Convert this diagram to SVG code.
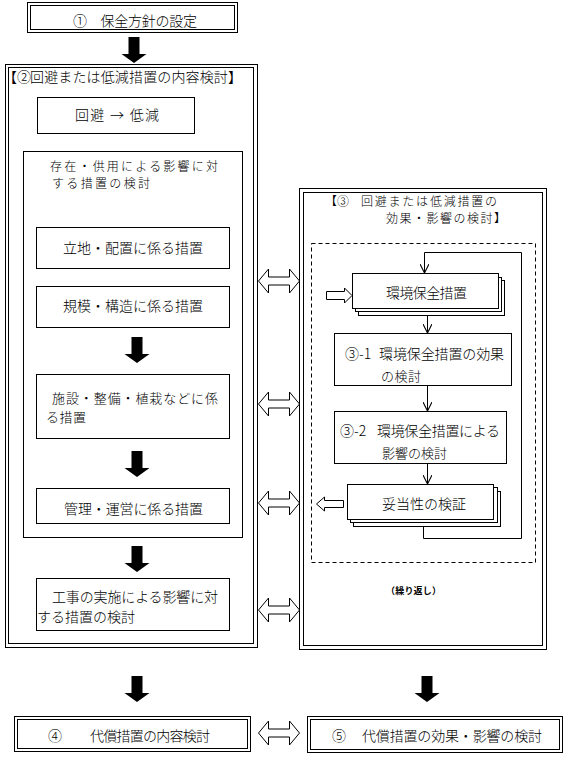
<svg xmlns="http://www.w3.org/2000/svg" width="568" height="760" viewBox="0 0 568 760">
<defs>
<style>
rect{fill:#fff;stroke:#000;stroke-width:1}
.dash{fill:none;stroke-dasharray:4 3}
text{font-family:"Noto Sans CJK JP","Noto Sans CJK SC",sans-serif;font-size:14px;font-weight:300;fill:#000}
.sm{font-size:13px}
.two{font-size:12px}
.tiny{font-size:9px;font-weight:bold}
.blk{fill:#000;stroke:none}
.hol{fill:#fff;stroke:#000;stroke-width:1}
.ln{fill:none;stroke:#000;stroke-width:1}
</style>
<marker id="v" viewBox="0 0 10 10" refX="10" refY="5" markerUnits="userSpaceOnUse" markerWidth="9" markerHeight="9" orient="auto">
<path d="M0,0 L10,5 L0,10" fill="none" stroke="#000" stroke-width="1.2"/>
</marker>
</defs>
<rect x="0" y="0" width="568" height="760" style="fill:#fff;stroke:none"/>

<g id="n1">
<rect x="27.5" y="2.5" width="210" height="30"/>
<rect x="30.5" y="5.5" width="204" height="24"/>
<text x="73" y="26" textLength="124">①　保全方針の設定</text>
</g>

<g id="n2">
<rect x="5.5" y="64.5" width="252" height="583"/>
<rect x="8.5" y="67.5" width="245" height="576"/>
<text y="82"><tspan x="3">【②</tspan><tspan x="30" textLength="212">回避または低減措置の内容検討】</tspan></text>
</g>

<g id="n2a">
<rect x="37.5" y="97.5" width="157" height="36"/>
<text x="75" y="120" textLength="84">回避 → 低減</text>
</g>

<g id="n2b">
<rect x="23.5" y="151.5" width="219" height="386"/>
<text class="two" x="50" y="171" textLength="168">存在・供用による影響に対</text>
<text class="two" x="52" y="188" textLength="98">する措置の検討</text>
</g>

<g id="n2b1">
<rect x="36.5" y="227.5" width="193" height="41"/>
<text x="63" y="253" textLength="140">立地・配置に係る措置</text>
</g>

<g id="n2b2">
<rect x="36.5" y="286.5" width="193" height="41"/>
<text x="63" y="311" textLength="140">規模・構造に係る措置</text>
</g>

<g id="n2b3">
<rect x="36.5" y="374.5" width="193" height="64"/>
<text class="sm" x="52" y="403" textLength="166">施設・整備・植栽などに係</text>
<text class="sm" x="46" y="422" textLength="40">る措置</text>
</g>

<g id="n2b4">
<rect x="36.5" y="488.5" width="193" height="35"/>
<text x="64" y="514" textLength="139">管理・運営に係る措置</text>
</g>

<g id="n2c">
<rect x="36.5" y="578.5" width="193" height="52"/>
<text x="52" y="602" textLength="166">工事の実施による影響に対</text>
<text x="37" y="622" textLength="98">する措置の検討</text>
</g>

<g id="n3">
<rect x="299.5" y="188.5" width="247" height="461"/>
<rect x="303.5" y="192.5" width="239" height="453"/>
<text class="two" y="206"><tspan x="325">【③</tspan><tspan x="361" textLength="136">回避または低減措置の</tspan></text>
<text class="two" x="386" y="223" textLength="120">効果・影響の検討】</text>
<rect class="dash" x="311.5" y="243.5" width="224" height="319"/>
<text class="tiny" x="386" y="594" textLength="55">（繰り返し）</text>
</g>

<g id="n3a">
<rect x="358.5" y="280.5" width="146" height="35"/>
<rect x="355.5" y="277.5" width="146" height="34"/>
<rect x="352.5" y="273.5" width="146" height="35"/>
<text x="386" y="298" textLength="81">環境保全措置</text>
</g>

<g id="n3b">
<rect x="334.5" y="333.5" width="177" height="52"/>
<text y="359"><tspan x="345">③-1</tspan><tspan x="379" textLength="125">環境保全措置の効果</tspan></text>
<text class="sm" x="381" y="381" textLength="40">の検討</text>
</g>

<g id="n3c">
<rect x="334.5" y="411.5" width="172" height="52"/>
<text y="436"><tspan x="340">③-2</tspan><tspan x="377" textLength="123">環境保全措置による</tspan></text>
<text class="sm" x="382" y="458" textLength="65">影響の検討</text>
</g>

<g id="n3d">
<rect x="353.5" y="491.5" width="147" height="35"/>
<rect x="350.5" y="487.5" width="147" height="35"/>
<rect x="347.5" y="484.5" width="146" height="35"/>
<text x="382" y="509" textLength="84">妥当性の検証</text>
</g>

<g id="n4">
<rect x="14.5" y="716.5" width="236" height="35"/>
<rect x="17.5" y="719.5" width="230" height="29"/>
<text y="741"><tspan x="48">④</tspan><tspan x="90" textLength="120">代償措置の内容検討</tspan></text>
</g>

<g id="n5">
<rect x="307.5" y="716.5" width="255" height="36"/>
<rect x="310.5" y="719.5" width="249" height="30"/>
<text y="741"><tspan x="332">⑤</tspan><tspan x="362" textLength="180">代償措置の効果・影響の検討</tspan></text>
</g>

<g id="connectors">
<path class="blk" d="M128.5,37 h11 v17 h7 l-12.5,9 l-12.5,-9 h7 z"/>
<path class="blk" d="M131.5,337 h11 v17 h7 l-12.5,9 l-12.5,-9 h7 z"/>
<path class="blk" d="M131.5,451 h11 v17 h7 l-12.5,9 l-12.5,-9 h7 z"/>
<path class="blk" d="M131.5,546 h11 v17 h7 l-12.5,9 l-12.5,-9 h7 z"/>
<path class="blk" d="M131.5,676 h11 v17 h7 l-12.5,9 l-12.5,-9 h7 z"/>
<path class="blk" d="M421.5,676 h11 v17 h7 l-12.5,9 l-12.5,-9 h7 z"/>

<path class="hol" d="M258.5,281 L268.5,269 V277 H289.5 V269 L299.5,281 L289.5,293 V285 H268.5 V293 Z"/>
<path class="hol" d="M258.5,404 L268.5,392 V400 H289.5 V392 L299.5,404 L289.5,416 V408 H268.5 V416 Z"/>
<path class="hol" d="M258.5,503 L268.5,491 V499 H289.5 V491 L299.5,503 L289.5,515 V507 H268.5 V515 Z"/>
<path class="hol" d="M258.5,610 L268.5,598 V606 H289.5 V598 L299.5,610 L289.5,622 V614 H268.5 V622 Z"/>
<path class="hol" d="M258.5,733 L268.5,721 V729 H289.5 V721 L299.5,733 L289.5,745 V737 H268.5 V745 Z"/>

<path class="hol" d="M326.5,291.5 H344.5 V288 L352,295.5 L344.5,303 V299.5 H326.5 Z"/>
<path class="hol" d="M343.5,500.5 H324.5 V497 L316.5,504 L324.5,511 V507.5 H343.5 Z"/>

<path class="ln" d="M423.5,527 V538.5 H521.5 V252.5 H424.5 V273" marker-end="url(#v)"/>
<path class="ln" d="M427.5,315 V333" marker-end="url(#v)"/>
<path class="ln" d="M427.5,385 V411" marker-end="url(#v)"/>
<path class="ln" d="M427.5,463 V484" marker-end="url(#v)"/>
</g>
</svg>
